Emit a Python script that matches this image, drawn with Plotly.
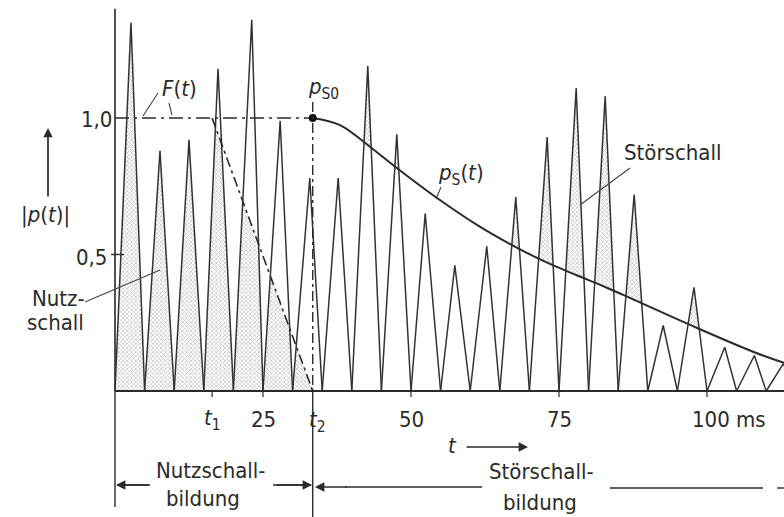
import numpy as np
import plotly.graph_objects as go

# ---------------- data ----------------
# valleys of the reflection train (ms) and the peak of each spike between two valleys
valley_ms = [0, 5, 10, 15, 20, 25, 30, 35, 40, 45, 50, 55, 60, 65, 70, 75, 80, 85,
             90, 95, 100, 105, 110, 115]
peak_ms = [2.7, 7.6, 12.5, 17.4, 23.1, 27.9, 32.9, 37.7, 42.7, 47.6, 52.4, 57.4,
           62.8, 67.7, 73.0, 77.9, 82.8, 87.7, 92.6, 97.8, 103.0, 108.0, 112.9]
peak_val = [1.35, 0.88, 0.92, 1.18, 1.36, 0.99, 0.78, 0.78, 1.19, 0.94, 0.65, 0.46,
            0.53, 0.71, 0.93, 1.11, 1.08, 0.72, 0.24, 0.38, 0.16, 0.13, 0.10]
direct_ms = [0.0]
direct_val = [1.40]

t1 = 16.4
t2 = 33.4
ps0 = 1.0

# decay envelope p_S(t)
ps_t = [33.4, 38.0, 43.1, 47.6, 54.4, 61.7, 67.7, 73.1, 77.9, 82.8, 87.8, 98.0, 107.9, 113.0]
ps_v = [1.0, 0.974, 0.894, 0.817, 0.707, 0.601, 0.527, 0.469, 0.425, 0.381, 0.333, 0.234,
        0.143, 0.103]

# weighting function F(t)
F_t = [0.0, t1, t2]
F_v = [1.0, 1.0, 0.0]

x_ticks = [25, 50, 75, 100]
x_tick_text = ["25", "50", "75", "100 ms"]

# ---------------- geometry helpers ----------------
PX0, PXS = 115.0, 5.92      # pixel of t=0 and pixels per ms
PY0, PYS = 391.0, 273.0     # pixel of value 0 and pixels per unit
W, H = 784, 517


def X(px):
    return (px - PX0) / PXS


def Y(py):
    return (PY0 - py) / PYS


INK = "#2a2a2a"
FONT = "Liberation Sans Narrow, DejaVu Sans Condensed, Liberation Sans, sans-serif"


def clip_halfplane(poly, f):
    out = []
    n = len(poly)
    for k in range(n):
        P, Q = poly[k], poly[(k + 1) % n]
        fp, fq = f(*P), f(*Q)
        if fp <= 0:
            out.append(P)
        if (fp < 0 < fq) or (fq < 0 < fp):
            s = fp / (fp - fq)
            out.append((P[0] + s * (Q[0] - P[0]), P[1] + s * (Q[1] - P[1])))
    return out


fig = go.Figure()

# ---- hatched Nutzschall (spikes clipped by F(t)) ----
def f_lim(t, v):
    return v - (t2 - t) / (t2 - t1) * F_v[0]

nx, ny = [], []
for i in range(len(peak_ms)):
    if valley_ms[i] >= t2:
        continue
    tri = [(valley_ms[i], 0.0), (peak_ms[i], peak_val[i]), (valley_ms[i + 1], 0.0)]
    poly = clip_halfplane(tri, f_lim)
    if len(poly) >= 3:
        nx += [p[0] for p in poly] + [poly[0][0], None]
        ny += [p[1] for p in poly] + [poly[0][1], None]

pattern = dict(shape="x", size=3, solidity=0.45, fgcolor="#8a8a8a", bgcolor="rgba(255,255,255,0)")
fig.add_trace(go.Scatter(x=nx, y=ny, mode="lines", fill="toself", line=dict(width=0),
                         fillcolor="rgba(255,255,255,0)", fillpattern=pattern,
                         hoverinfo="skip", showlegend=False))

# ---- hatched Störschall (spike parts above p_S(t)) ----
sx, sy = [], []
for i in range(len(peak_ms)):
    L, R = valley_ms[i], valley_ms[i + 1]
    if L < t2:
        continue
    ts = np.linspace(L, R, 600)
    up = np.interp(ts, [L, peak_ms[i], R], [0, peak_val[i], 0])
    lo = np.interp(ts, ps_t, ps_v)
    m = up > lo
    if m.sum() > 1:
        tt = ts[m]
        sx += list(tt) + list(tt[::-1]) + [tt[0], None]
        sy += list(up[m]) + list(lo[m][::-1]) + [up[m][0], None]
fig.add_trace(go.Scatter(x=sx, y=sy, mode="lines", fill="toself", line=dict(width=0),
                         fillcolor="rgba(255,255,255,0)", fillpattern=pattern,
                         hoverinfo="skip", showlegend=False))

# ---- spike outlines ----
ox, oy = [], []
for i in range(len(peak_ms)):
    ox += [valley_ms[i], peak_ms[i], valley_ms[i + 1], None]
    oy += [0, peak_val[i], 0, None]
fig.add_trace(go.Scatter(x=ox, y=oy, mode="lines", line=dict(color="#333333", width=1.5),
                         hoverinfo="skip", showlegend=False))

# direct sound / axis spike at t=0
for t, v in zip(direct_ms, direct_val):
    fig.add_trace(go.Scatter(x=[t, t], y=[0, v], mode="lines",
                             line=dict(color="#333333", width=1.7),
                             hoverinfo="skip", showlegend=False))

# ---- F(t) dash-dot + horizontal 1.0 line up to t2 ----
fig.add_trace(go.Scatter(x=[0, t2], y=[ps0, ps0], mode="lines",
                         line=dict(color=INK, width=1.6, dash="14px,5px,3px,5px"),
                         hoverinfo="skip", showlegend=False))
fig.add_trace(go.Scatter(x=F_t[1:], y=F_v[1:], mode="lines",
                         line=dict(color=INK, width=1.6, dash="10px,4px,3px,4px"),
                         hoverinfo="skip", showlegend=False))

# ---- p_S(t) ----
fig.add_trace(go.Scatter(x=ps_t, y=ps_v, mode="lines", line=dict(color=INK, width=2, shape="spline"),
                         hoverinfo="skip", showlegend=False))
fig.add_trace(go.Scatter(x=[t2], y=[ps0], mode="markers", marker=dict(color="#111", size=8),
                         hoverinfo="skip", showlegend=False))

# ---------------- shapes (axes, guides) ----------------
shapes = []
line = dict(color=INK, width=2)
# baseline
shapes.append(dict(type="line", x0=0, x1=X(W + 5), y0=0, y1=0, line=line))
# t2 guide (dash-dot above baseline, solid below)
shapes.append(dict(type="line", x0=t2, x1=t2, y0=Y(102), y1=0,
                   line=dict(color=INK, width=1.4, dash="10px,4px,3px,4px")))
shapes.append(dict(type="line", x0=t2, x1=t2, y0=0, y1=Y(517), line=dict(color=INK, width=1.4)))
# t=0 guide below baseline
shapes.append(dict(type="line", x0=0, x1=0, y0=0, y1=Y(507), line=dict(color=INK, width=1.4)))
# 0,5 tick
shapes.append(dict(type="line", x0=X(111), x1=X(124), y0=0.5, y1=0.5, line=dict(color=INK, width=1.4)))
# x ticks
for t in [t1] + x_ticks:
    shapes.append(dict(type="line", x0=t, x1=t, y0=0, y1=Y(397), line=dict(color=INK, width=1.2)))
# leaders
for (a, b, c, d) in [(158, 93, 143, 116), (169, 103, 172, 115), (441, 187, 436, 199),
                     (630, 168, 580, 205), (85, 302, 160, 270)]:
    shapes.append(dict(type="line", x0=X(a), y0=Y(b), x1=X(c), y1=Y(d),
                       line=dict(color="#444", width=1.1)))
# dimension lines (bottom)
for (a, b, c) in [(117, 150, 485), (273, 311, 485), (345, 482, 487), (610, 763, 488),
                  (777, 790, 488)]:
    shapes.append(dict(type="line", x0=X(a), x1=X(b), y0=Y(c), y1=Y(c),
                       line=dict(color=INK, width=1.4)))

# ---------------- annotations ----------------
ann = []


def txt(s, px, py, size=22, xanchor="center"):
    ann.append(dict(x=X(px), y=Y(py), text=s, showarrow=False, xanchor=xanchor, yanchor="middle",
                    font=dict(family=FONT, size=size, color=INK)))


def arrow(px_head, py_head, px_tail, py_tail, size=1.1):
    ann.append(dict(x=X(px_head), y=Y(py_head), ax=X(px_tail), ay=Y(py_tail),
                    axref="x", ayref="y", xref="x", yref="y", text="", showarrow=True,
                    arrowhead=2, arrowsize=size, arrowwidth=1.7, arrowcolor=INK))


txt("1,0", 96, 119)
txt("0,5", 91, 257)
txt("|<i>p</i>(<i>t</i>)|", 45, 215, 22)
txt("<i>F</i>(<i>t</i>)", 179, 88)
txt("<i>p</i><sub>S0</sub>", 323, 88)
txt("<i>p</i><sub>S</sub>(<i>t</i>)", 461, 174)
txt("Störschall", 672, 152)
txt("Nutz-", 58, 298)
txt("schall", 55, 322)
txt("<i>t</i><sub>1</sub>", 212, 419)
txt("<i>t</i><sub>2</sub>", 317, 421)
for t, s in zip(x_ticks, x_tick_text):
    px = PX0 + t * PXS
    if s.endswith("ms"):
        txt(s, px - 17, 419, xanchor="left")
    else:
        txt(s, px, 419)
txt("<i>t</i>", 452, 445)
txt("Nutzschall-", 211, 470)
txt("bildung", 203, 498)
txt("Störschall-", 541, 471)
txt("bildung", 540, 502)

arrow(48, 128, 48, 198)          # y-axis arrow
arrow(528, 447, 465, 447)        # t arrow
arrow(116, 485, 150, 485)        # Nutzschallbildung left
arrow(312, 485, 275, 485)        # Nutzschallbildung right
arrow(315, 487, 348, 487)        # Störschallbildung left

fig.update_layout(
    width=W, height=H, margin=dict(l=0, r=0, t=0, b=0),
    paper_bgcolor="white", plot_bgcolor="white",
    xaxis=dict(range=[X(0), X(W)], visible=False, fixedrange=True),
    yaxis=dict(range=[Y(H), Y(0)], visible=False, fixedrange=True),
    shapes=shapes, annotations=ann, showlegend=False,
)

fig.write_html("out.html")
